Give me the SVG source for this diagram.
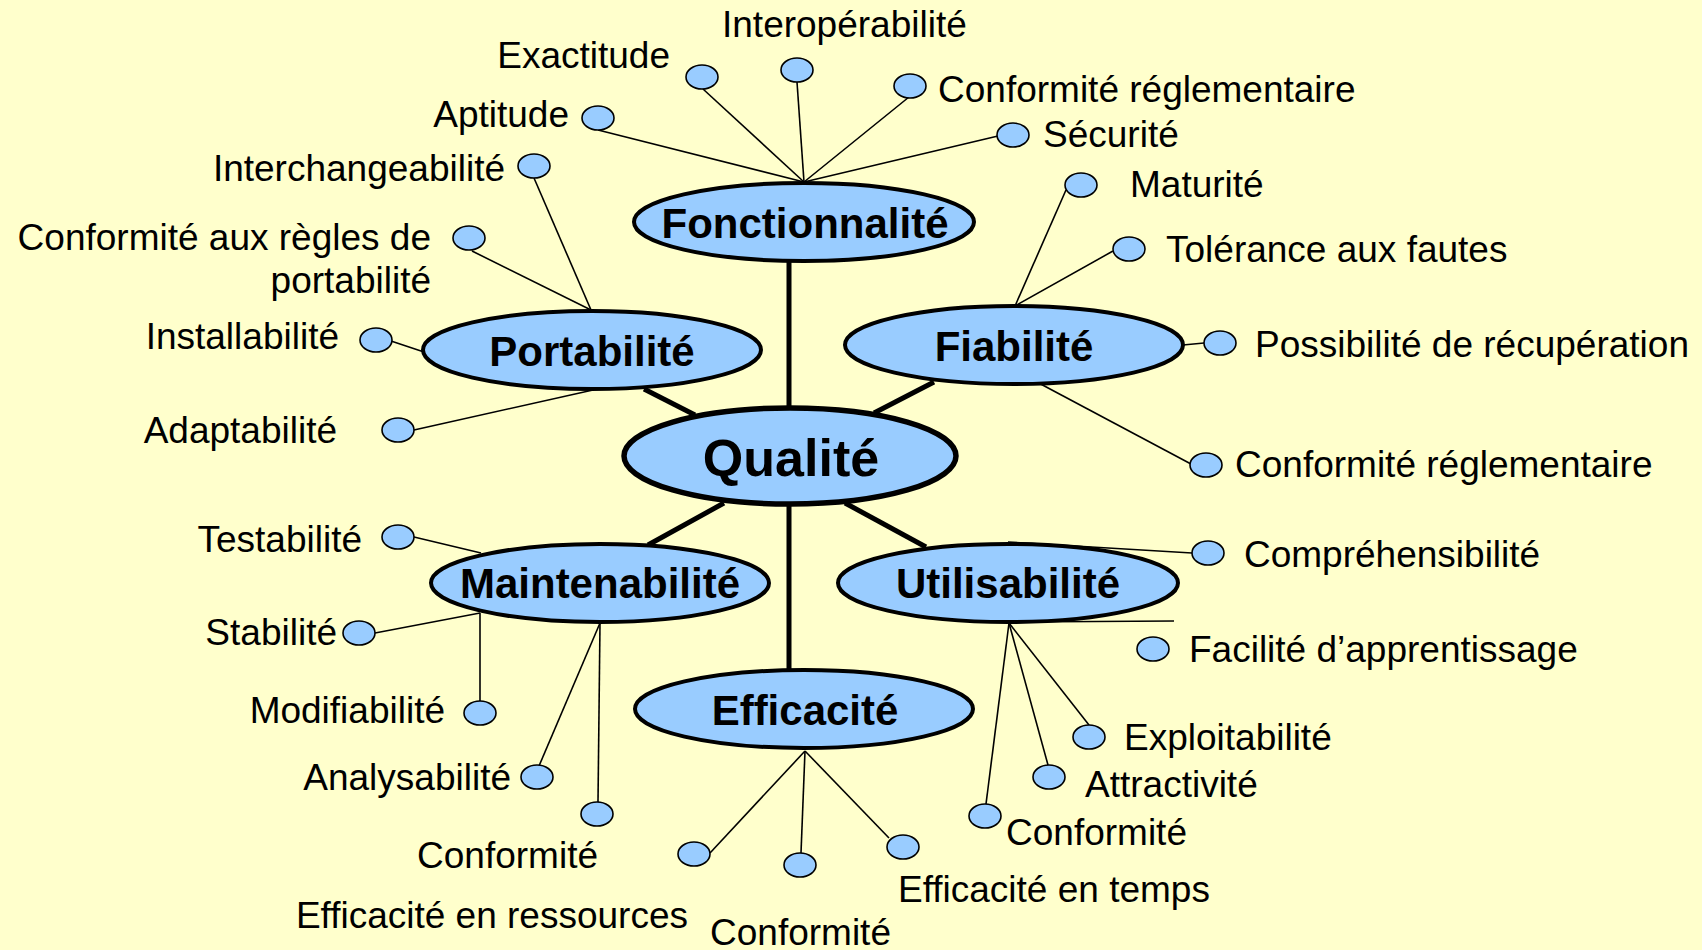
<svg xmlns="http://www.w3.org/2000/svg" width="1702" height="950" viewBox="0 0 1702 950">
<style>
.bg{fill:#FFFFCC}
.main{fill:#99CCFF;stroke:#000;stroke-width:4}
.core{fill:#99CCFF;stroke:#000;stroke-width:5.5}
.leaf{fill:#99CCFF;stroke:#000;stroke-width:1.6}
.thick{stroke:#000;stroke-width:5;fill:none}
.thin{stroke:#000;stroke-width:1.6;fill:none}
.t{font-family:"Liberation Sans",Arial,sans-serif;font-size:37px;fill:#000}
.e{text-anchor:end}
.b{font-family:"Liberation Sans",Arial,sans-serif;font-weight:bold;font-size:42px;text-anchor:middle;fill:#000}
.bq{font-size:52px}
</style>
<rect class="bg" x="0" y="0" width="1702" height="950"/>
<g id="connectors">
<line class="thick" x1="789" y1="262" x2="789" y2="410"/>
<line class="thick" x1="789" y1="502" x2="789" y2="671"/>
<line class="thick" x1="644" y1="389" x2="695" y2="415"/>
<line class="thick" x1="934" y1="382" x2="874" y2="413"/>
<line class="thick" x1="724" y1="503" x2="648" y2="545"/>
<line class="thick" x1="845" y1="503" x2="926" y2="547"/>
<!-- Fonctionnalite -->
<line class="thin" x1="598" y1="130" x2="804" y2="182"/>
<line class="thin" x1="703" y1="89" x2="804" y2="182"/>
<line class="thin" x1="797" y1="82" x2="804" y2="182"/>
<line class="thin" x1="909" y1="97" x2="804" y2="182"/>
<line class="thin" x1="998" y1="136" x2="804" y2="182"/>
<!-- Portabilite -->
<line class="thin" x1="534" y1="178" x2="591" y2="310"/>
<line class="thin" x1="472" y1="251" x2="591" y2="310"/>
<line class="thin" x1="391" y1="341" x2="424" y2="352"/>
<line class="thin" x1="414" y1="430" x2="593" y2="390"/>
<!-- Fiabilite -->
<line class="thin" x1="1066" y1="190" x2="1015" y2="306"/>
<line class="thin" x1="1113" y1="251" x2="1015" y2="306"/>
<line class="thin" x1="1183" y1="345" x2="1204" y2="343"/>
<line class="thin" x1="1191" y1="464" x2="1035" y2="381"/>
<!-- Maintenabilite -->
<line class="thin" x1="414" y1="537" x2="481" y2="553"/>
<line class="thin" x1="375" y1="633" x2="480" y2="613"/>
<line class="thin" x1="480" y1="613" x2="480" y2="701"/>
<line class="thin" x1="539" y1="766" x2="600" y2="623"/>
<line class="thin" x1="600" y1="623" x2="598" y2="802"/>
<!-- Efficacite -->
<line class="thin" x1="710" y1="853" x2="805" y2="751"/>
<line class="thin" x1="801" y1="853" x2="805" y2="751"/>
<line class="thin" x1="889" y1="838" x2="805" y2="751"/>
<!-- Utilisabilite -->
<line class="thin" x1="1008" y1="542" x2="1192" y2="553"/>
<line class="thin" x1="1008" y1="622" x2="1174" y2="621"/>
<line class="thin" x1="1009" y1="623" x2="1089" y2="725"/>
<line class="thin" x1="1009" y1="623" x2="1048" y2="765"/>
<line class="thin" x1="1009" y1="623" x2="986" y2="804"/>
</g>
<g id="qualite"><ellipse class="core" cx="790" cy="456" rx="166" ry="48"/><text class="b bq" x="791" y="476">Qualité</text></g>
<g id="fonctionnalite"><ellipse class="main" cx="804" cy="222" rx="170" ry="39"/><text class="b" x="805" y="238">Fonctionnalité</text></g>
<g id="portabilite"><ellipse class="main" cx="592" cy="350" rx="169" ry="39"/><text class="b" x="592" y="366">Portabilité</text></g>
<g id="fiabilite"><ellipse class="main" cx="1014" cy="345" rx="169" ry="39"/><text class="b" x="1014" y="361">Fiabilité</text></g>
<g id="maintenabilite"><ellipse class="main" cx="600" cy="583" rx="169" ry="39"/><text class="b" x="600" y="598">Maintenabilité</text></g>
<g id="utilisabilite"><ellipse class="main" cx="1008" cy="583" rx="170" ry="39"/><text class="b" x="1008" y="598">Utilisabilité</text></g>
<g id="efficacite"><ellipse class="main" cx="804" cy="709" rx="169" ry="39"/><text class="b" x="805" y="725">Efficacité</text></g>

<g id="aptitude"><ellipse class="leaf" cx="598" cy="118" rx="16" ry="12"/><text class="t e" x="569" y="127">Aptitude</text></g>
<g id="exactitude"><ellipse class="leaf" cx="702" cy="77" rx="16" ry="12"/><text class="t e" x="670" y="68">Exactitude</text></g>
<g id="interoperabilite"><ellipse class="leaf" cx="797" cy="70" rx="16" ry="12"/><text class="t" x="722" y="37">Interopérabilité</text></g>
<g id="conformite-reglementaire-f"><ellipse class="leaf" cx="910" cy="86" rx="16" ry="12"/><text class="t" x="938" y="102">Conformité réglementaire</text></g>
<g id="securite"><ellipse class="leaf" cx="1013" cy="135" rx="16" ry="12"/><text class="t" x="1043" y="147">Sécurité</text></g>

<g id="interchangeabilite"><ellipse class="leaf" cx="534" cy="166" rx="16" ry="12"/><text class="t e" x="505" y="181">Interchangeabilité</text></g>
<g id="conformite-portabilite"><ellipse class="leaf" cx="469" cy="238" rx="16" ry="12"/><text class="t e" x="431" y="250">Conformité aux règles de</text><text class="t e" x="431" y="293">portabilité</text></g>
<g id="installabilite"><ellipse class="leaf" cx="376" cy="340" rx="16" ry="12"/><text class="t e" x="339" y="349">Installabilité</text></g>
<g id="adaptabilite"><ellipse class="leaf" cx="398" cy="430" rx="16" ry="12"/><text class="t e" x="337" y="443">Adaptabilité</text></g>

<g id="maturite"><ellipse class="leaf" cx="1081" cy="185" rx="16" ry="12"/><text class="t" x="1130" y="197">Maturité</text></g>
<g id="tolerance"><ellipse class="leaf" cx="1129" cy="249" rx="16" ry="12"/><text class="t" x="1166" y="262">Tolérance aux fautes</text></g>
<g id="recuperation"><ellipse class="leaf" cx="1220" cy="343" rx="16" ry="12"/><text class="t" x="1255" y="357">Possibilité de récupération</text></g>
<g id="conformite-reglementaire-fi"><ellipse class="leaf" cx="1206" cy="465" rx="16" ry="12"/><text class="t" x="1235" y="477">Conformité réglementaire</text></g>

<g id="testabilite"><ellipse class="leaf" cx="398" cy="537" rx="16" ry="12"/><text class="t e" x="362" y="552">Testabilité</text></g>
<g id="stabilite"><ellipse class="leaf" cx="359" cy="633" rx="16" ry="12"/><text class="t e" x="337" y="645">Stabilité</text></g>
<g id="modifiabilite"><ellipse class="leaf" cx="480" cy="713" rx="16" ry="12"/><text class="t e" x="445" y="723">Modifiabilité</text></g>
<g id="analysabilite"><ellipse class="leaf" cx="537" cy="777" rx="16" ry="12"/><text class="t e" x="511" y="790">Analysabilité</text></g>
<g id="conformite-m"><ellipse class="leaf" cx="597" cy="814" rx="16" ry="12"/><text class="t e" x="598" y="868">Conformité</text></g>

<g id="efficacite-ressources"><ellipse class="leaf" cx="694" cy="854" rx="16" ry="12"/><text class="t e" x="688" y="928">Efficacité en ressources</text></g>
<g id="conformite-e"><ellipse class="leaf" cx="800" cy="865" rx="16" ry="12"/><text class="t" x="710" y="945">Conformité</text></g>
<g id="efficacite-temps"><ellipse class="leaf" cx="903" cy="847" rx="16" ry="12"/><text class="t" x="898" y="902">Efficacité en temps</text></g>

<g id="comprehensibilite"><ellipse class="leaf" cx="1208" cy="553" rx="16" ry="12"/><text class="t" x="1244" y="567">Compréhensibilité</text></g>
<g id="apprentissage"><ellipse class="leaf" cx="1153" cy="649" rx="16" ry="12"/><text class="t" x="1189" y="662">Facilité d’apprentissage</text></g>
<g id="exploitabilite"><ellipse class="leaf" cx="1089" cy="737" rx="16" ry="12"/><text class="t" x="1124" y="750">Exploitabilité</text></g>
<g id="attractivite"><ellipse class="leaf" cx="1049" cy="777" rx="16" ry="12"/><text class="t" x="1085" y="797">Attractivité</text></g>
<g id="conformite-u"><ellipse class="leaf" cx="985" cy="816" rx="16" ry="12"/><text class="t" x="1006" y="845">Conformité</text></g>
</svg>
